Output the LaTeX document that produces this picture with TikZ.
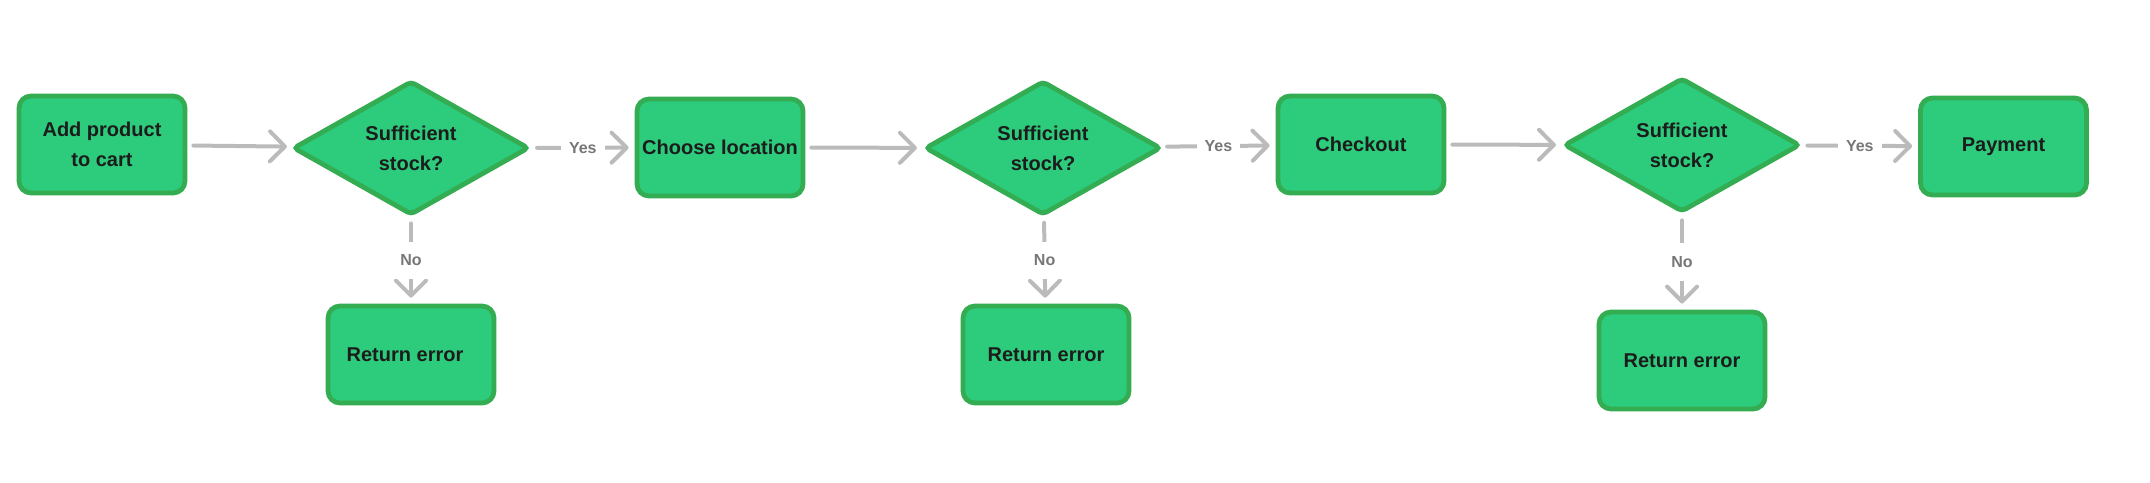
\documentclass[tikz,border=0pt]{standalone}
\usepackage{fontspec}
\setmainfont{Liberation Sans}
\usetikzlibrary{shapes.geometric,arrows.meta}
\definecolor{boxfill}{HTML}{2DCB7C}
\definecolor{boxline}{HTML}{33AC52}
\definecolor{connc}{HTML}{BBBBBB}
\definecolor{lblc}{HTML}{777777}
\definecolor{txtc}{HTML}{1C1C1C}
\tikzset{
  procbox/.style={rectangle, rounded corners=6pt, draw=boxline, fill=boxfill,
    line width=2.4pt, minimum width=83pt, minimum height=48.5pt, inner sep=0pt,
    align=center, text=txtc, font=\fontsize{10}{15}\selectfont\bfseries},
  decbox/.style={diamond, aspect=1.78, rounded corners=2pt, draw=boxline, fill=boxfill,
    line width=2.4pt, minimum width=118pt, minimum height=67pt, inner sep=0pt,
    align=center, text=txtc, font=\fontsize{10}{15}\selectfont\bfseries},
  conn/.style={draw=connc, line width=2pt, line cap=round, shorten <=3pt, shorten >=3pt,
    -{Straight Barb[length=7.5pt,width=15pt,round]}},
  lbl/.style={fill=white, text=lblc, font=\fontsize{8}{9}\selectfont\bfseries,
    inner xsep=4pt, inner ysep=6.5pt}
}
\begin{document}
\begin{tikzpicture}[x=0.5pt,y=-0.5pt]
\useasboundingbox (0,0) rectangle (2150,482);
\node[procbox] (b1) at (102,144.5) {Add product\\to cart};
\node[decbox]  (d1) at (411,148) {Sufficient\\stock?};
\node[procbox] (e1) at (411,354.5) {\hspace{-6pt}Return error};
\node[procbox] (b2) at (720,147.5) {Choose location};
\node[decbox]  (d2) at (1043,148) {Sufficient\\stock?};
\node[procbox] (e2) at (1046,354.5) {Return error};
\node[procbox] (b3) at (1361,144.5) {Checkout};
\node[decbox]  (d3) at (1682,145) {Sufficient\\stock?};
\node[procbox] (e3) at (1682,360.5) {Return error};
\node[procbox] (b4) at (2003.5,146.5) {Payment};

\draw[conn] (b1) -- (d1);
\draw[conn] (d1) -- node[lbl] {Yes} (b2);
\draw[conn] (d1) -- node[lbl] {No} (e1);
\draw[conn] (b2) -- (d2);
\draw[conn] (d2) -- node[lbl] {Yes} (b3);
\draw[conn] (d2) -- node[lbl] {No} (e2);
\draw[conn] (b3) -- (d3);
\draw[conn] (d3) -- node[lbl] {Yes} (b4);
\draw[conn] (d3) -- node[lbl] {No} (e3);
\end{tikzpicture}
\end{document}
